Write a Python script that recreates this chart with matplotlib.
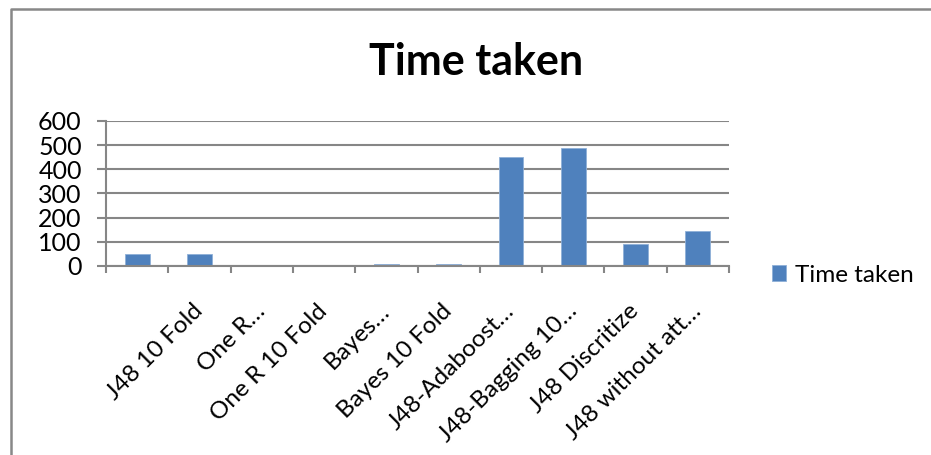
import matplotlib.pyplot as plt
from matplotlib.lines import Line2D
import numpy as np

# Run time per classifier setup
categories = ['', 'J48 10 Fold', 'One R…', 'One R 10 Fold', 'Bayes…',
              'Bayes 10 Fold', 'J48-Adaboost…', 'J48-Bagging 10…',
              'J48 Discritize', 'J48 without att…']
time_taken = [51, 50, 4, 1, 8, 8, 450, 488, 92, 145]
y_ticks = [0, 100, 200, 300, 400, 500, 600]

bar_color = '#4F81BD'
grid_color = '#868686'

plt.rcParams['font.family'] = ['Lato', 'DejaVu Sans']

fig = plt.figure(figsize=(9.31, 4.55), dpi=100)
ax = fig.add_axes([0.1139, 0.4154, 0.6692, 0.3187])

x = np.arange(len(categories))
ax.bar(x, time_taken, width=0.4, color=bar_color, edgecolor='#8FB0D8',
       linewidth=0.6, zorder=3, label='Time taken')

ax.set_xlim(-0.5, len(categories) - 0.5)
ax.set_ylim(0, 600)
ax.set_yticks(y_ticks)
ax.set_yticklabels([str(v) for v in y_ticks], fontsize=18)
ax.yaxis.grid(True, color=grid_color, linewidth=1.5, zorder=0)

# category ticks sit between the bars, labels hang at 45 degrees
ax.set_xticks(np.arange(len(categories) + 1) - 0.5)
ax.set_xticklabels([])
ax.set_xticks(x, minor=True)
ax.set_xticklabels(categories, minor=True, rotation=45, ha='right',
                   va='center', rotation_mode='anchor', fontsize=17.5)
ax.tick_params(axis='x', which='minor', length=0, pad=30)
ax.tick_params(axis='x', which='major', length=5, width=1.5,
               color=grid_color, direction='out')
ax.tick_params(axis='y', length=6.5, width=1.5, color=grid_color, pad=11)

for side in ['top', 'right']:
    ax.spines[side].set_visible(False)
for side in ['left', 'bottom']:
    ax.spines[side].set_color(grid_color)
    ax.spines[side].set_linewidth(1.5)
    ax.spines[side].set_zorder(4)

fig.text(0.511, 0.835, 'Time taken', ha='center', va='baseline',
         fontsize=31, fontweight='bold')

fig.legend(loc='center left', bbox_to_anchor=(0.816, 0.395), frameon=False,
           fontsize=17.5, handlelength=0.6, handleheight=0.6,
           handletextpad=0.35, borderpad=0)

# outer chart border, clipped at the right and bottom
W, H = 931, 455
fig.add_artist(Line2D([11 / W, 11 / W, 1.0], [0.0, 1 - 8.5 / H, 1 - 8.5 / H],
                      transform=fig.transFigure, color='#888888',
                      linewidth=1.8))

fig.savefig('out.png', dpi=100)
